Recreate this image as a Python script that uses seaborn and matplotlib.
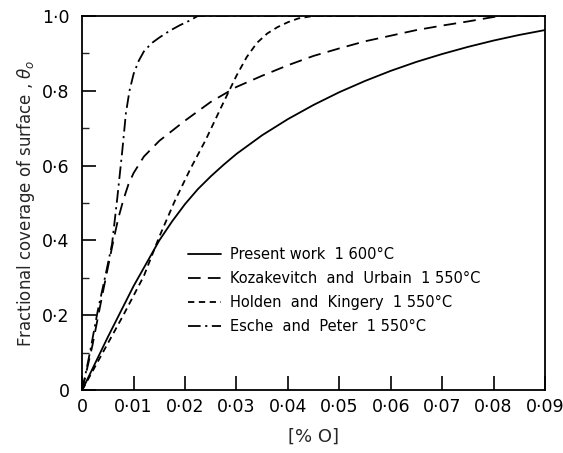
import matplotlib
matplotlib.use("Agg")
import matplotlib.pyplot as plt
import seaborn as sns
import pandas as pd
from matplotlib.ticker import MultipleLocator

# Oxygen content [% O] and fractional surface coverage for each study
present_x = [0, 0.005, 0.010, 0.015, 0.0175, 0.020, 0.0225, 0.025, 0.0275, 0.030, 0.035,
             0.040, 0.045, 0.050, 0.055, 0.060, 0.065, 0.070, 0.075, 0.080, 0.085, 0.090]
present_y = [0, 0.142, 0.278, 0.400, 0.451, 0.497, 0.537, 0.571, 0.602, 0.631, 0.681,
             0.724, 0.762, 0.796, 0.826, 0.853, 0.877, 0.898, 0.917, 0.934, 0.949, 0.962]

koza_x = [0, 0.002, 0.004, 0.006, 0.007, 0.008, 0.009, 0.010, 0.012, 0.015, 0.020, 0.025,
          0.030, 0.035, 0.040, 0.045, 0.050, 0.055, 0.060, 0.065, 0.070, 0.075, 0.080,
          0.082, 0.090]
koza_y = [0, 0.120, 0.260, 0.395, 0.458, 0.508, 0.550, 0.580, 0.624, 0.666, 0.720, 0.770,
          0.810, 0.840, 0.868, 0.893, 0.913, 0.932, 0.947, 0.962, 0.974, 0.985, 0.997,
          1.0, 1.0]

holden_x = [0, 0.004, 0.008, 0.012, 0.015, 0.018, 0.021, 0.024, 0.027, 0.030,
            0.032, 0.034, 0.036, 0.038, 0.040, 0.042, 0.045, 0.090]
holden_y = [0, 0.100, 0.200, 0.305, 0.410, 0.505, 0.590, 0.668, 0.755, 0.840,
            0.890, 0.928, 0.953, 0.970, 0.983, 0.993, 1.0, 1.0]

esche_x = [0, 0.0015, 0.0030, 0.0045, 0.0058, 0.0068, 0.0078, 0.0085, 0.0092, 0.0100,
           0.0110, 0.0120, 0.0135, 0.0150, 0.0170, 0.0190, 0.0210, 0.0225, 0.0900]
esche_y = [0, 0.100, 0.210, 0.305, 0.390, 0.510, 0.640, 0.740, 0.800, 0.845,
           0.880, 0.905, 0.927, 0.942, 0.960, 0.975, 0.988, 1.0, 1.0]

labels = ["Present work  1 600°C",
          "Kozakevitch  and  Urbain  1 550°C",
          "Holden  and  Kingery  1 550°C",
          "Esche  and  Peter  1 550°C"]
x_ticks = [0, 0.01, 0.02, 0.03, 0.04, 0.05, 0.06, 0.07, 0.08, 0.09]
x_tick_labels = ["0", "0·01", "0·02", "0·03", "0·04", "0·05", "0·06", "0·07", "0·08", "0·09"]
y_ticks = [0, 0.2, 0.4, 0.6, 0.8, 1.0]
y_tick_labels = ["0", "0·2", "0·4", "0·6", "0·8", "1·0"]

sns.set_theme(style="ticks")
plt.rcParams["font.family"] = ["DejaVu Sans"]

fig = plt.figure(figsize=(5.63, 4.53), dpi=100)
ax = fig.add_axes([0.146, 0.139, 0.822, 0.826])

series = [(present_x, present_y, "-"),
          (koza_x, koza_y, (0, (7, 4))),
          (holden_x, holden_y, (0, (3.5, 2.5))),
          (esche_x, esche_y, (0, (7, 2.5, 1.2, 2.5)))]

for (xs, ys, ls), lab in zip(series, labels):
    df = pd.DataFrame({"o": xs, "theta": ys})
    sns.lineplot(data=df, x="o", y="theta", ax=ax, color="black", lw=1.3,
                 linestyle=ls, label=lab, sort=False, estimator=None)

ax.set_xlim(0, 0.09)
ax.set_ylim(0, 1.0)
ax.set_xticks(x_ticks)
ax.set_xticklabels(x_tick_labels)
ax.set_yticks(y_ticks)
ax.set_yticklabels(y_tick_labels)
ax.yaxis.set_minor_locator(MultipleLocator(0.1))
ax.tick_params(axis="both", which="major", direction="in", length=10, width=1.2,
               labelsize=12.5, colors="black", pad=6)
ax.tick_params(axis="y", which="major", pad=9)
ax.tick_params(axis="y", which="minor", direction="in", length=5, width=1.0)
for sp in ax.spines.values():
    sp.set_visible(True)
    sp.set_linewidth(1.3)
    sp.set_color("black")

ax.set_xlabel("[% O]", fontsize=13, labelpad=8)
ax.set_ylabel(r"Fractional coverage of surface , $\theta_o$", fontsize=12, labelpad=4)

leg = ax.legend(loc="lower left", bbox_to_anchor=(0.2, 0.115), frameon=False,
                fontsize=10.5, handlelength=2.3, handletextpad=0.6, labelspacing=0.62)
for t in leg.get_texts():
    t.set_color("black")

fig.savefig("out.png", dpi=100, facecolor="white")
